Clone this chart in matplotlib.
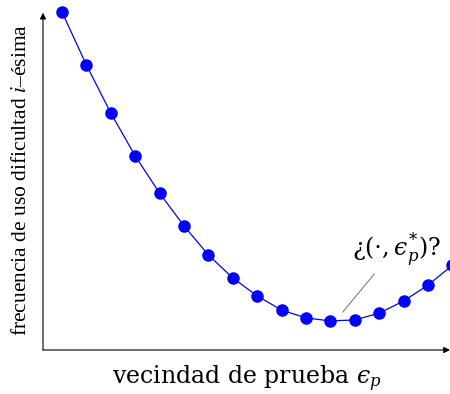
import numpy as np
import matplotlib
matplotlib.use("Agg")
import matplotlib.pyplot as plt

# vecindades probadas y frecuencia observada
vecindad = np.arange(1, 18)
frecuencia = [100.0, 84.3, 70.1, 57.4, 46.4, 36.7, 28.1, 21.3, 16.0,
              11.8, 9.5, 8.6, 8.9, 10.9, 14.5, 19.2, 25.1]

etiqueta_x = r"vecindad de prueba $ϵ_p$"
etiqueta_y = r"frecuencia de uso dificultad $i$–ésima"
etiqueta_min = r"¿$(\cdot,ϵ_p^{*})$?"

azul = "#0000ff"

fig = plt.figure(figsize=(4.5, 3.94), dpi=100)
ax = fig.add_axes([43 / 450, 44 / 394, 407 / 450, 340 / 394])
ax.set_xlim(0.22, 16.9)
ax.set_ylim(0, 100.6)

ax.plot(vecindad, frecuencia, color=azul, lw=0.9, clip_on=False, zorder=3)
ax.plot(vecindad, frecuencia, "o", color=azul, ms=8, clip_on=False, zorder=4)

for s in ax.spines.values():
    s.set_visible(False)
ax.set_xticks([])
ax.set_yticks([])

# ejes con flecha
flecha = dict(arrowstyle="-|>", color="black", lw=0.8, mutation_scale=9,
              shrinkA=0, shrinkB=0)
ax.annotate("", xy=(0, 0.992), xytext=(0, 0), xycoords="axes fraction",
            arrowprops=flecha, annotation_clip=False)
ax.annotate("", xy=(1.0, 0), xytext=(0, 0), xycoords="axes fraction",
            arrowprops=flecha, annotation_clip=False)

# etiqueta del mínimo con su línea guía
ax.annotate("", xy=(12.5, 11.2), xytext=(13.8, 22.5),
            arrowprops=dict(arrowstyle="-", color="gray", lw=0.8,
                            shrinkA=0, shrinkB=0))
ax.text(14.73, 27.8, etiqueta_min, fontsize=17, family="DejaVu Serif",
        math_fontfamily="dejavuserif", ha="center", va="baseline")

fig.text(0.549, 10 / 394, etiqueta_x, ha="center", va="baseline", fontsize=17,
         family="DejaVu Serif", math_fontfamily="dejavuserif")
fig.text(0.047, 0.543, etiqueta_y, ha="center", va="center", rotation=90,
         fontsize=15.5, family="Liberation Serif", math_fontfamily="stix")

fig.savefig("out.png", dpi=100)
